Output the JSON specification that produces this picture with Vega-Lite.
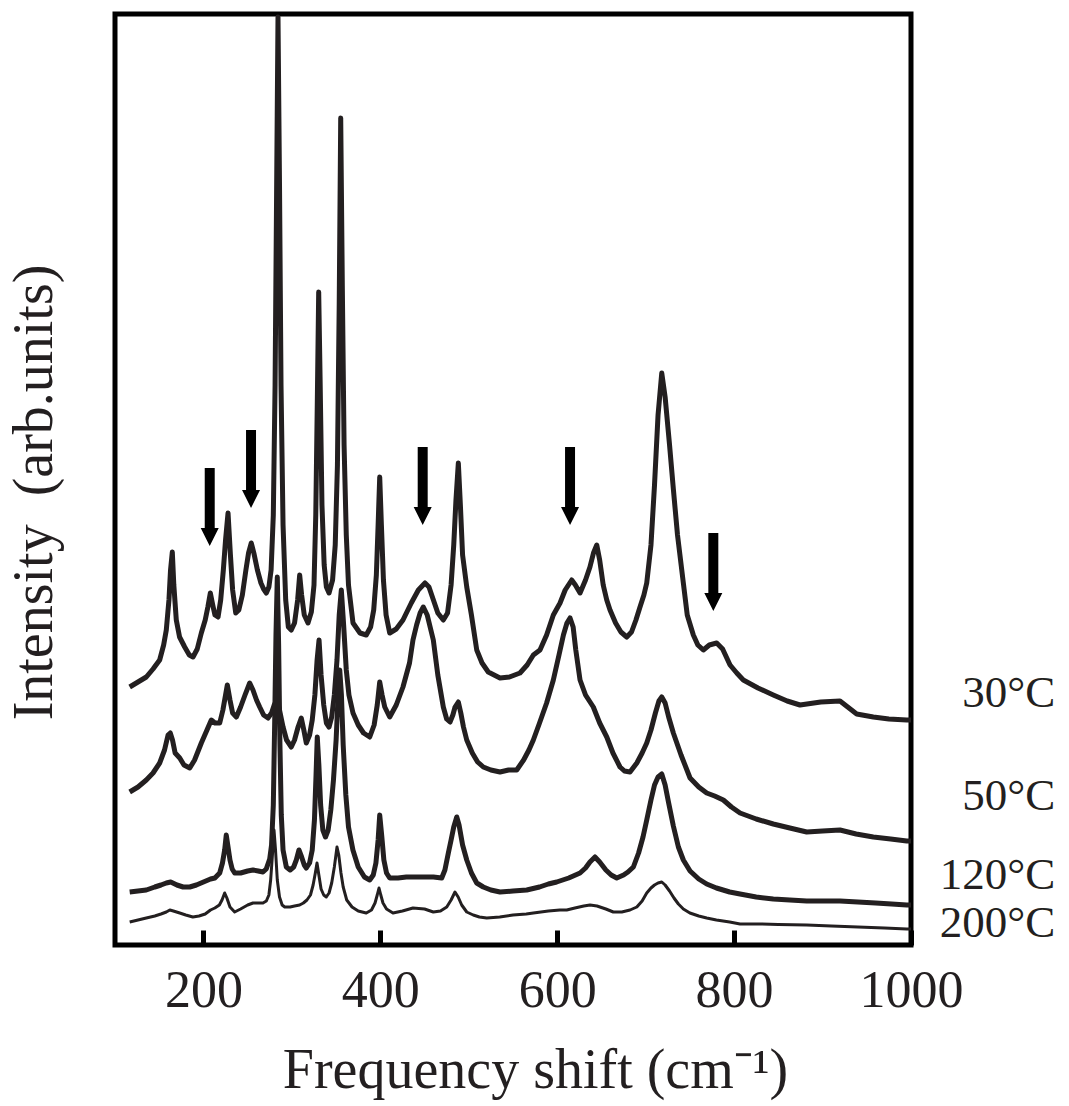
{
"$schema":"https://vega.github.io/schema/vega-lite/v6.json",
"width":796,"height":931,
"autosize":{"type":"none"},
"padding":{"left":115,"top":14,"right":158,"bottom":161},
"background":"white",
"config":{"view":{"stroke":"#000000","strokeWidth":5},"font":"Liberation Serif"},
"datasets":{
"c30":[{"shift":116.6,"intensity":258},{"shift":126,"intensity":263},{"shift":135.4,"intensity":268},{"shift":143,"intensity":276},{"shift":150.5,"intensity":285},{"shift":155,"intensity":300},{"shift":158,"intensity":315},{"shift":161,"intensity":345},{"shift":162.8,"intensity":375},{"shift":164.8,"intensity":393},{"shift":166.5,"intensity":360},{"shift":169.3,"intensity":325},{"shift":173,"intensity":308},{"shift":178.8,"intensity":298},{"shift":184,"intensity":290},{"shift":188.2,"intensity":288},{"shift":193,"intensity":296},{"shift":197.6,"intensity":312},{"shift":202,"intensity":325},{"shift":205,"intensity":338},{"shift":207.8,"intensity":352},{"shift":210.5,"intensity":340},{"shift":213,"intensity":330},{"shift":216.5,"intensity":328},{"shift":219.5,"intensity":345},{"shift":222.5,"intensity":375},{"shift":225,"intensity":405},{"shift":227.8,"intensity":432},{"shift":230.5,"intensity":390},{"shift":233,"intensity":355},{"shift":236.5,"intensity":332},{"shift":240,"intensity":335},{"shift":244,"intensity":350},{"shift":248,"intensity":375},{"shift":251,"intensity":392},{"shift":254.1,"intensity":402},{"shift":257,"intensity":392},{"shift":261,"intensity":375},{"shift":265,"intensity":362},{"shift":268,"intensity":356},{"shift":271.1,"intensity":352},{"shift":274,"intensity":358},{"shift":276.5,"intensity":375},{"shift":279,"intensity":430},{"shift":281,"intensity":560},{"shift":282.7,"intensity":750},{"shift":284.3,"intensity":928},{"shift":286,"intensity":760},{"shift":287.7,"intensity":560},{"shift":290,"intensity":420},{"shift":293,"intensity":345},{"shift":296,"intensity":318},{"shift":299.3,"intensity":315},{"shift":303,"intensity":322},{"shift":306.5,"intensity":345},{"shift":308.8,"intensity":370},{"shift":311,"intensity":350},{"shift":314,"intensity":330},{"shift":318.2,"intensity":322},{"shift":322,"intensity":333},{"shift":325,"intensity":360},{"shift":327,"intensity":430},{"shift":328.7,"intensity":540},{"shift":330.3,"intensity":653},{"shift":332,"intensity":560},{"shift":334,"intensity":440},{"shift":336.5,"intensity":380},{"shift":339,"intensity":358},{"shift":342,"intensity":352},{"shift":346,"intensity":365},{"shift":349,"intensity":400},{"shift":351.5,"intensity":480},{"shift":353.5,"intensity":640},{"shift":355.2,"intensity":827},{"shift":357,"intensity":660},{"shift":359,"intensity":500},{"shift":361.5,"intensity":410},{"shift":364,"intensity":360},{"shift":369.1,"intensity":322},{"shift":377,"intensity":312},{"shift":384.1,"intensity":310},{"shift":389,"intensity":318},{"shift":392.5,"intensity":335},{"shift":395.5,"intensity":370},{"shift":397.5,"intensity":420},{"shift":399.3,"intensity":468},{"shift":401.2,"intensity":420},{"shift":403.5,"intensity":365},{"shift":406.5,"intensity":330},{"shift":410.6,"intensity":312},{"shift":418,"intensity":316},{"shift":425.6,"intensity":325},{"shift":435,"intensity":342},{"shift":443,"intensity":355},{"shift":450.5,"intensity":362},{"shift":455,"intensity":358},{"shift":460,"intensity":345},{"shift":465,"intensity":332},{"shift":471.2,"intensity":325},{"shift":476,"intensity":332},{"shift":480,"intensity":360},{"shift":483,"intensity":400},{"shift":485.5,"intensity":445},{"shift":488.2,"intensity":482},{"shift":490.5,"intensity":440},{"shift":493,"intensity":390},{"shift":497.7,"intensity":358},{"shift":503,"intensity":330},{"shift":509,"intensity":295},{"shift":515,"intensity":282},{"shift":522,"intensity":273},{"shift":535.3,"intensity":267},{"shift":546,"intensity":268},{"shift":557.9,"intensity":272},{"shift":566,"intensity":280},{"shift":573,"intensity":290},{"shift":580.5,"intensity":295},{"shift":588,"intensity":310},{"shift":595.6,"intensity":330},{"shift":603.2,"intensity":342},{"shift":609,"intensity":355},{"shift":616.4,"intensity":365},{"shift":620.5,"intensity":360},{"shift":625.8,"intensity":352},{"shift":632,"intensity":365},{"shift":637,"intensity":378},{"shift":641,"intensity":392},{"shift":644.7,"intensity":400},{"shift":648,"intensity":385},{"shift":652,"intensity":360},{"shift":656,"intensity":345},{"shift":659.7,"intensity":335},{"shift":666,"intensity":322},{"shift":672,"intensity":313},{"shift":678.6,"intensity":308},{"shift":684,"intensity":313},{"shift":689,"intensity":325},{"shift":693.6,"intensity":338},{"shift":698,"intensity":350},{"shift":701.2,"intensity":362},{"shift":706,"intensity":400},{"shift":710,"intensity":460},{"shift":714,"intensity":530},{"shift":718.2,"intensity":572},{"shift":722,"intensity":548},{"shift":727,"intensity":500},{"shift":731.3,"intensity":456},{"shift":736,"intensity":410},{"shift":742.6,"intensity":362},{"shift":747,"intensity":330},{"shift":753.9,"intensity":310},{"shift":759,"intensity":300},{"shift":765.2,"intensity":295},{"shift":772,"intensity":300},{"shift":780.3,"intensity":302},{"shift":787,"intensity":296},{"shift":795.4,"intensity":280},{"shift":803,"intensity":272},{"shift":810.4,"intensity":265},{"shift":827,"intensity":257},{"shift":844.3,"intensity":250},{"shift":860,"intensity":244},{"shift":874.5,"intensity":240},{"shift":898,"intensity":243},{"shift":919.7,"intensity":244},{"shift":938.6,"intensity":231},{"shift":957.4,"intensity":228},{"shift":975,"intensity":226},{"shift":995.2,"intensity":225},{"shift":1000,"intensity":225}],
"c50":[{"shift":116.6,"intensity":153},{"shift":126,"intensity":158},{"shift":135.4,"intensity":165},{"shift":143,"intensity":172},{"shift":150.5,"intensity":182},{"shift":156,"intensity":195},{"shift":160,"intensity":210},{"shift":162.5,"intensity":212},{"shift":165,"intensity":205},{"shift":168,"intensity":192},{"shift":173.2,"intensity":187},{"shift":178,"intensity":180},{"shift":184.5,"intensity":177},{"shift":190,"intensity":185},{"shift":197.6,"intensity":202},{"shift":204,"intensity":215},{"shift":208.9,"intensity":225},{"shift":213,"intensity":222},{"shift":218.4,"intensity":222},{"shift":222,"intensity":235},{"shift":225,"intensity":250},{"shift":227,"intensity":260},{"shift":230,"intensity":245},{"shift":233,"intensity":232},{"shift":237.2,"intensity":228},{"shift":242,"intensity":238},{"shift":247,"intensity":250},{"shift":252.3,"intensity":262},{"shift":256,"intensity":255},{"shift":260,"intensity":245},{"shift":263.6,"intensity":238},{"shift":268,"intensity":230},{"shift":273,"intensity":227},{"shift":277,"intensity":232},{"shift":280,"intensity":240},{"shift":283,"intensity":245},{"shift":286,"intensity":235},{"shift":290,"intensity":218},{"shift":294,"intensity":205},{"shift":299.3,"intensity":198},{"shift":303,"intensity":205},{"shift":307,"intensity":218},{"shift":310.6,"intensity":227},{"shift":313.5,"intensity":215},{"shift":316.3,"intensity":202},{"shift":320,"intensity":210},{"shift":323,"intensity":225},{"shift":326,"intensity":250},{"shift":328.5,"intensity":285},{"shift":330.7,"intensity":305},{"shift":333,"intensity":270},{"shift":336,"intensity":240},{"shift":339,"intensity":222},{"shift":342,"intensity":218},{"shift":345,"intensity":228},{"shift":348,"intensity":250},{"shift":351,"intensity":285},{"shift":353.5,"intensity":330},{"shift":355.9,"intensity":355},{"shift":358.5,"intensity":320},{"shift":361.5,"intensity":275},{"shift":364.5,"intensity":250},{"shift":369.1,"intensity":232},{"shift":375,"intensity":220},{"shift":381,"intensity":212},{"shift":388,"intensity":208},{"shift":393,"intensity":220},{"shift":396.5,"intensity":240},{"shift":399.3,"intensity":263},{"shift":402,"intensity":250},{"shift":405,"intensity":238},{"shift":410.6,"intensity":228},{"shift":418,"intensity":240},{"shift":425.6,"intensity":258},{"shift":433,"intensity":282},{"shift":436.9,"intensity":305},{"shift":441,"intensity":320},{"shift":445,"intensity":332},{"shift":448.6,"intensity":338},{"shift":453,"intensity":330},{"shift":459.9,"intensity":305},{"shift":465,"intensity":270},{"shift":471.2,"intensity":238},{"shift":475,"intensity":226},{"shift":478.8,"intensity":223},{"shift":482,"intensity":230},{"shift":484.5,"intensity":238},{"shift":488.2,"intensity":243},{"shift":491,"intensity":232},{"shift":494,"intensity":218},{"shift":497.7,"intensity":205},{"shift":504,"intensity":192},{"shift":510,"intensity":183},{"shift":516.4,"intensity":178},{"shift":525,"intensity":175},{"shift":535.3,"intensity":173},{"shift":545,"intensity":175},{"shift":554.2,"intensity":175},{"shift":562,"intensity":185},{"shift":568,"intensity":195},{"shift":573,"intensity":205},{"shift":580,"intensity":222},{"shift":588,"intensity":242},{"shift":595.6,"intensity":265},{"shift":602,"intensity":290},{"shift":607,"intensity":310},{"shift":611,"intensity":322},{"shift":614.5,"intensity":327},{"shift":618,"intensity":318},{"shift":621,"intensity":295},{"shift":625.8,"intensity":265},{"shift":632,"intensity":250},{"shift":640.8,"intensity":238},{"shift":648,"intensity":222},{"shift":656,"intensity":208},{"shift":663,"intensity":192},{"shift":671,"intensity":178},{"shift":676,"intensity":174},{"shift":682.3,"intensity":173},{"shift":690,"intensity":182},{"shift":696,"intensity":192},{"shift":701.2,"intensity":202},{"shift":706,"intensity":215},{"shift":711,"intensity":232},{"shift":715,"intensity":244},{"shift":718.2,"intensity":248},{"shift":722,"intensity":242},{"shift":726,"intensity":228},{"shift":731.3,"intensity":212},{"shift":740,"intensity":190},{"shift":750.2,"intensity":167},{"shift":760,"intensity":158},{"shift":769,"intensity":152},{"shift":778,"intensity":149},{"shift":787.8,"intensity":145},{"shift":797,"intensity":138},{"shift":806.7,"intensity":132},{"shift":825,"intensity":126},{"shift":844.3,"intensity":121},{"shift":863,"intensity":117},{"shift":882.1,"intensity":113},{"shift":900,"intensity":114},{"shift":919.7,"intensity":115},{"shift":938,"intensity":111},{"shift":957.4,"intensity":108},{"shift":977,"intensity":106},{"shift":995.2,"intensity":104},{"shift":1000,"intensity":104}],
"c120":[{"shift":116.6,"intensity":53},{"shift":126,"intensity":54},{"shift":135.4,"intensity":55},{"shift":145,"intensity":58},{"shift":152,"intensity":60},{"shift":158,"intensity":62},{"shift":163,"intensity":63},{"shift":170,"intensity":60},{"shift":177,"intensity":58},{"shift":184.5,"intensity":58},{"shift":192,"intensity":60},{"shift":200,"intensity":63},{"shift":208,"intensity":66},{"shift":212.9,"intensity":67},{"shift":218.4,"intensity":72},{"shift":221.5,"intensity":82},{"shift":224,"intensity":95},{"shift":225.8,"intensity":110},{"shift":227.5,"intensity":100},{"shift":230,"intensity":85},{"shift":232.5,"intensity":76},{"shift":235.3,"intensity":72},{"shift":242,"intensity":72},{"shift":250,"intensity":74},{"shift":256,"intensity":75},{"shift":262,"intensity":74},{"shift":267.3,"intensity":73},{"shift":271,"intensity":76},{"shift":274.9,"intensity":86},{"shift":277,"intensity":100},{"shift":279,"intensity":140},{"shift":280.5,"intensity":220},{"shift":282,"intensity":310},{"shift":283.5,"intensity":368},{"shift":285,"intensity":300},{"shift":286.5,"intensity":200},{"shift":288,"intensity":130},{"shift":290,"intensity":95},{"shift":293.7,"intensity":78},{"shift":298,"intensity":75},{"shift":302,"intensity":78},{"shift":305,"intensity":85},{"shift":308,"intensity":95},{"shift":311,"intensity":88},{"shift":314,"intensity":80},{"shift":316.3,"intensity":77},{"shift":320,"intensity":82},{"shift":323,"intensity":95},{"shift":325.5,"intensity":125},{"shift":327.3,"intensity":170},{"shift":328.7,"intensity":208},{"shift":330.5,"intensity":180},{"shift":332.5,"intensity":140},{"shift":335,"intensity":115},{"shift":338,"intensity":108},{"shift":341,"intensity":115},{"shift":344,"intensity":135},{"shift":347,"intensity":165},{"shift":350,"intensity":205},{"shift":352,"intensity":245},{"shift":354.1,"intensity":275},{"shift":356,"intensity":250},{"shift":358,"intensity":200},{"shift":361,"intensity":150},{"shift":364,"intensity":118},{"shift":369,"intensity":95},{"shift":375,"intensity":78},{"shift":382,"intensity":68},{"shift":388,"intensity":65},{"shift":392,"intensity":70},{"shift":395,"intensity":82},{"shift":397.5,"intensity":105},{"shift":399.3,"intensity":130},{"shift":401.5,"intensity":110},{"shift":404,"intensity":85},{"shift":407,"intensity":72},{"shift":410.6,"intensity":67},{"shift":420,"intensity":67},{"shift":429.4,"intensity":68},{"shift":440,"intensity":68},{"shift":448.6,"intensity":68},{"shift":460,"intensity":68},{"shift":469.4,"intensity":67},{"shift":473,"intensity":75},{"shift":476.9,"intensity":92},{"shift":480,"intensity":105},{"shift":483,"intensity":118},{"shift":486.4,"intensity":128},{"shift":489,"intensity":120},{"shift":493,"intensity":100},{"shift":497.7,"intensity":85},{"shift":503,"intensity":72},{"shift":509,"intensity":62},{"shift":516.4,"intensity":58},{"shift":525,"intensity":55},{"shift":535.3,"intensity":53},{"shift":550,"intensity":54},{"shift":565.5,"intensity":55},{"shift":580,"intensity":58},{"shift":590,"intensity":61},{"shift":599.4,"intensity":63},{"shift":613,"intensity":67},{"shift":625.8,"intensity":72},{"shift":632,"intensity":77},{"shift":637,"intensity":83},{"shift":642.7,"intensity":88},{"shift":648,"intensity":83},{"shift":655,"intensity":75},{"shift":661,"intensity":70},{"shift":667.3,"intensity":67},{"shift":675,"intensity":70},{"shift":680,"intensity":73},{"shift":686.1,"intensity":78},{"shift":692,"intensity":92},{"shift":697,"intensity":108},{"shift":701.2,"intensity":125},{"shift":706,"intensity":145},{"shift":710,"intensity":160},{"shift":714,"intensity":168},{"shift":718.2,"intensity":171},{"shift":722,"intensity":160},{"shift":726,"intensity":142},{"shift":731.3,"intensity":119},{"shift":737,"intensity":98},{"shift":742.6,"intensity":85},{"shift":750.2,"intensity":74},{"shift":760,"intensity":66},{"shift":769,"intensity":61},{"shift":780,"intensity":57},{"shift":795,"intensity":53},{"shift":806.7,"intensity":51},{"shift":825,"intensity":48},{"shift":844.3,"intensity":46},{"shift":863,"intensity":45},{"shift":882.1,"intensity":44},{"shift":900,"intensity":44},{"shift":919.7,"intensity":44},{"shift":940,"intensity":43},{"shift":960,"intensity":42},{"shift":978,"intensity":41},{"shift":995.2,"intensity":40},{"shift":1000,"intensity":40}],
"c200":[{"shift":116.6,"intensity":23},{"shift":126,"intensity":25},{"shift":135.4,"intensity":27},{"shift":145,"intensity":29},{"shift":152,"intensity":31},{"shift":158,"intensity":33},{"shift":162,"intensity":35},{"shift":166,"intensity":34},{"shift":173.2,"intensity":32},{"shift":180,"intensity":30},{"shift":188,"intensity":28},{"shift":195,"intensity":29},{"shift":202,"intensity":31},{"shift":208,"intensity":35},{"shift":212.9,"intensity":37},{"shift":218,"intensity":40},{"shift":221,"intensity":45},{"shift":224,"intensity":52},{"shift":226.5,"intensity":47},{"shift":230,"intensity":38},{"shift":235.3,"intensity":33},{"shift":242,"intensity":36},{"shift":250,"intensity":40},{"shift":256,"intensity":42},{"shift":263,"intensity":42},{"shift":267.3,"intensity":42},{"shift":271.1,"intensity":44},{"shift":274,"intensity":50},{"shift":276,"intensity":65},{"shift":278,"intensity":90},{"shift":279.8,"intensity":115},{"shift":281.5,"intensity":95},{"shift":283.5,"intensity":65},{"shift":286,"intensity":48},{"shift":289,"intensity":40},{"shift":291.9,"intensity":38},{"shift":298,"intensity":38},{"shift":303,"intensity":39},{"shift":308.8,"intensity":40},{"shift":313,"intensity":42},{"shift":317,"intensity":45},{"shift":321,"intensity":50},{"shift":324,"intensity":60},{"shift":326.5,"intensity":72},{"shift":328.4,"intensity":82},{"shift":330.5,"intensity":70},{"shift":333,"intensity":56},{"shift":336,"intensity":50},{"shift":338.9,"intensity":48},{"shift":342,"intensity":52},{"shift":345,"intensity":62},{"shift":348,"intensity":78},{"shift":351,"intensity":98},{"shift":353,"intensity":90},{"shift":355.5,"intensity":72},{"shift":358,"intensity":58},{"shift":362,"intensity":45},{"shift":368,"intensity":38},{"shift":375,"intensity":34},{"shift":384.1,"intensity":32},{"shift":390,"intensity":35},{"shift":394,"intensity":42},{"shift":396.5,"intensity":50},{"shift":398.5,"intensity":57},{"shift":400.5,"intensity":50},{"shift":403,"intensity":42},{"shift":407,"intensity":36},{"shift":414.3,"intensity":32},{"shift":425,"intensity":34},{"shift":436.9,"intensity":37},{"shift":450,"intensity":36},{"shift":459.9,"intensity":33},{"shift":468,"intensity":34},{"shift":475.1,"intensity":38},{"shift":480,"intensity":45},{"shift":484.4,"intensity":53},{"shift":488,"intensity":48},{"shift":492,"intensity":40},{"shift":497.7,"intensity":33},{"shift":505,"intensity":30},{"shift":512,"intensity":28},{"shift":520.3,"intensity":27},{"shift":535,"intensity":28},{"shift":550,"intensity":30},{"shift":565,"intensity":31},{"shift":573,"intensity":32},{"shift":590,"intensity":34},{"shift":603,"intensity":35},{"shift":610.7,"intensity":35},{"shift":620,"intensity":37},{"shift":630,"intensity":39},{"shift":637.1,"intensity":40},{"shift":645,"intensity":39},{"shift":655,"intensity":36},{"shift":663.4,"intensity":33},{"shift":673,"intensity":33},{"shift":682.3,"intensity":35},{"shift":690,"intensity":38},{"shift":696,"intensity":44},{"shift":701.2,"intensity":52},{"shift":706,"intensity":57},{"shift":710,"intensity":60},{"shift":714,"intensity":62},{"shift":718.2,"intensity":63},{"shift":722,"intensity":60},{"shift":727,"intensity":54},{"shift":732,"intensity":47},{"shift":737,"intensity":41},{"shift":742.6,"intensity":36},{"shift":750,"intensity":32},{"shift":760,"intensity":29},{"shift":769,"intensity":27},{"shift":780,"intensity":25},{"shift":795,"intensity":23},{"shift":806.7,"intensity":21},{"shift":830,"intensity":21},{"shift":850,"intensity":20.5},{"shift":882.1,"intensity":20},{"shift":910,"intensity":19},{"shift":940,"intensity":18},{"shift":970,"intensity":17},{"shift":995.2,"intensity":16},{"shift":1000,"intensity":16}],
"arrows":[{"shift":207.1,"intensity":438},{"shift":253.8,"intensity":476},{"shift":447.9,"intensity":459},{"shift":614.5,"intensity":459},{"shift":776.5,"intensity":373}],
"labels":[{"temp":"30°C","shift":1163,"intensity":238},{"temp":"50°C","shift":1163,"intensity":135},{"temp":"120°C","shift":1163,"intensity":56},{"temp":"200°C","shift":1163,"intensity":8}]
},
"layer":[
{"data":{"name":"c30"},"mark":{"type":"line","color":"#231f20","strokeWidth":5,"strokeJoin":"round"},
 "encoding":{
  "x":{"field":"shift","type":"quantitative","scale":{"domain":[100,1000],"nice":false,"zero":false},
   "axis":{"values":[200,400,600,800,1000],"format":"d","domain":false,"grid":false,"tickSize":-15,"tickWidth":5,"tickColor":"#000000","labelFont":"Liberation Serif","labelFontSize":52,"labelColor":"#231f20","labelPadding":35,"labelFlush":false,"labelOverlap":false,"title":"Frequency shift (cm⁻¹)","titleFont":"Liberation Serif","titleFontSize":56,"titleFontWeight":"normal","titleColor":"#231f20","titlePadding":27,"titleX":420}},
  "y":{"field":"intensity","type":"quantitative","scale":{"domain":[0,931],"nice":false,"zero":false},
   "axis":{"title":"Intensity\u00a0 (arb.units)","ticks":false,"labels":false,"domain":false,"grid":false,"minExtent":0,"titleFont":"Liberation Serif","titleFontSize":56,"titleFontWeight":"normal","titleColor":"#231f20","titlePadding":52,"titleY":478}}}},
{"data":{"name":"c50"},"mark":{"type":"line","color":"#231f20","strokeWidth":5,"strokeJoin":"round"},
 "encoding":{"x":{"field":"shift","type":"quantitative"},"y":{"field":"intensity","type":"quantitative"}}},
{"data":{"name":"c120"},"mark":{"type":"line","color":"#231f20","strokeWidth":5,"strokeJoin":"round"},
 "encoding":{"x":{"field":"shift","type":"quantitative"},"y":{"field":"intensity","type":"quantitative"}}},
{"data":{"name":"c200"},"mark":{"type":"line","color":"#231f20","strokeWidth":3,"strokeJoin":"round"},
 "encoding":{"x":{"field":"shift","type":"quantitative"},"y":{"field":"intensity","type":"quantitative"}}},
{"data":{"name":"arrows"},"mark":{"type":"point","shape":"M -0.128 -1 L 0.128 -1 L 0.128 0.54 L 0.231 0.54 L 0 1 L -0.231 0.54 L -0.128 0.54 Z","size":6084,"filled":true,"color":"#000000","opacity":1,"strokeWidth":0},
 "encoding":{"x":{"field":"shift","type":"quantitative"},"y":{"field":"intensity","type":"quantitative"}}},
{"data":{"name":"labels"},"mark":{"type":"text","align":"right","baseline":"alphabetic","font":"Liberation Serif","fontSize":45,"color":"#231f20"},
 "encoding":{"x":{"field":"shift","type":"quantitative"},"y":{"field":"intensity","type":"quantitative"},"text":{"field":"temp","type":"nominal"}}}
]
}
